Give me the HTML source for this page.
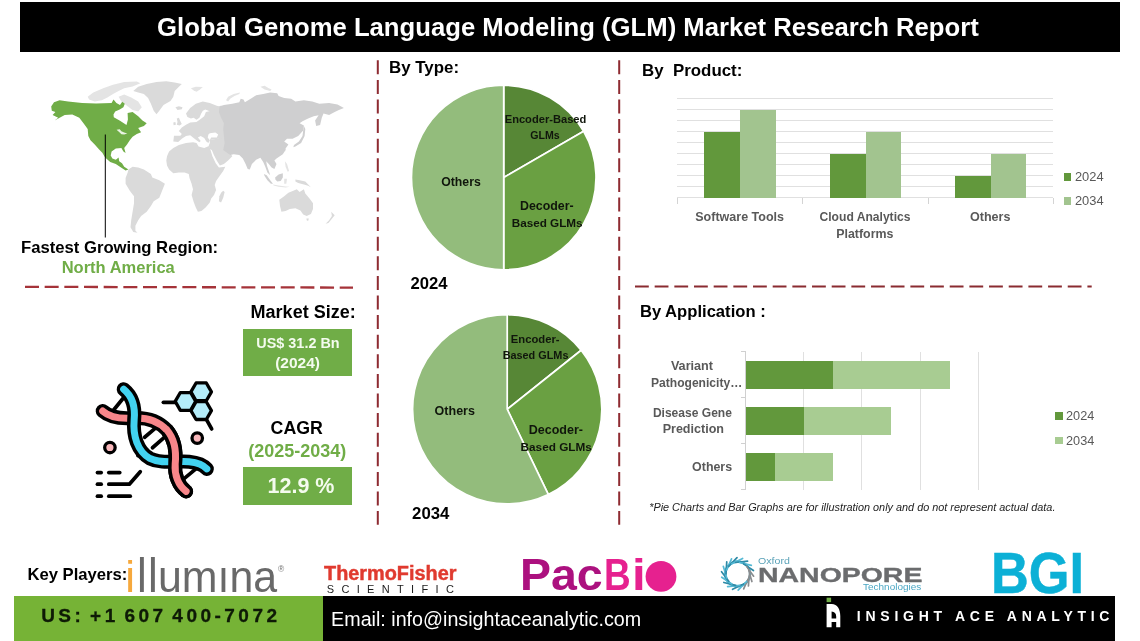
<!DOCTYPE html>
<html><head><meta charset="utf-8"><title>Global Genome Language Modeling (GLM) Market Research Report</title>
<style>
html,body{margin:0;padding:0;background:#fff;}
body{width:1140px;height:641px;position:relative;overflow:hidden;font-family:"Liberation Sans",Arial,sans-serif;color:#000;}
.a{position:absolute;white-space:nowrap;line-height:1;}
.gl{position:absolute;left:677.4px;width:376px;height:1px;background:#e0e0e0;}
.tk{position:absolute;width:1px;background:#d4d4d4;}
svg{position:absolute;left:0;top:0;overflow:visible;}
</style></head><body>
<div class="a" style="left:20px;top:2px;width:1100px;height:50.3px;background:#000;"></div>

<svg width="1140" height="641" viewBox="0 0 1140 641">
<g id="map">
<path fill="#e4e4e4" d="M87.7 96.7 L93.3 92.5 L103.2 88.2 L113.0 84.7 L124.2 81.9 L136.8 81.5 L140.4 83.3 L132.6 86.6 L124.2 88.2 L118.6 91.1 L113.0 93.9 L107.4 97.4 L101.8 100.2 L94.7 101.6 L89.1 99.5Z"/>
<path fill="#e4e4e4" d="M118.6 96.7 L124.2 94.6 L131.2 97.4 L138.2 101.6 L141.8 107.2 L138.2 111.4 L132.6 110.0 L127.0 105.8 L121.4 101.6Z"/>
<path fill="#dadada" d="M133.3 91.1 L138.2 86.8 L146.7 84.0 L156.5 81.9 L166.3 81.2 L174.7 82.6 L181.8 84.0 L178.9 86.8 L174.7 91.1 L173.3 96.7 L170.5 100.9 L163.5 105.1 L159.3 110.7 L156.5 114.2 L153.7 110.7 L150.9 103.7 L148.1 98.1 L143.9 93.9 L138.2 92.5Z"/>
<path fill="#70ad47" d="M51.2 106.5 L54.0 102.3 L59.6 100.3 L68.1 101.4 L82.1 103.1 L96.1 103.4 L111.6 103.1 L113.5 99.5 L116.4 103.1 L120.0 105.1 L122.2 101.7 L124.8 103.7 L123.4 107.3 L119.7 109.6 L115.2 111.5 L113.5 114.4 L113.8 117.2 L120.0 120.8 L126.5 125.0 L127.9 119.4 L127.6 112.9 L132.6 112.1 L138.2 116.3 L142.5 120.5 L146.7 123.3 L143.9 126.1 L138.2 128.1 L141.1 132.3 L136.8 134.0 L132.6 136.8 L129.8 140.2 L127.0 144.4 L124.2 148.0 L125.6 153.1 L123.4 151.4 L121.4 148.0 L115.8 148.6 L111.6 151.4 L110.7 155.6 L112.4 158.4 L115.8 159.8 L118.6 157.6 L119.2 161.2 L122.0 163.2 L124.2 166.8 L128.4 169.6 L125.6 170.5 L121.4 167.7 L115.8 164.0 L110.2 162.1 L105.1 157.6 L102.3 152.8 L98.9 149.2 L94.7 144.4 L90.5 140.2 L88.3 136.0 L87.7 128.9 L83.5 123.3 L79.3 117.7 L72.3 114.4 L64.7 114.9 L54.6 120.5 L58.2 117.7 L52.6 114.9 L55.4 112.1 L51.8 110.7Z"/>
<path fill="#e9f3e2" d="M116.6 129.8 L119.7 129.2 L121.4 131.2 L124.2 132.6 L127.3 133.4 L124.2 134.6 L121.4 134.3 L119.4 132.3Z"/>
<path fill="#dadada" d="M128.4 169.6 L132.6 166.8 L138.2 167.5 L143.9 169.6 L150.9 173.9 L152.3 177.4 L159.3 180.2 L164.9 183.7 L162.1 190.7 L159.3 197.7 L153.7 201.2 L150.9 206.1 L146.7 211.8 L141.1 216.0 L138.2 220.2 L135.4 225.8 L135.4 230.7 L137.5 232.8 L133.3 232.1 L130.5 227.2 L131.2 220.2 L132.6 211.8 L134.0 203.3 L134.0 196.3 L129.8 190.7 L125.6 183.7 L125.6 178.1 L127.7 172.5Z"/>
<path fill="#dadada" d="M175.4 107.2 L178.9 106.2 L182.5 107.2 L181.8 109.3 L177.5 110.0Z"/>
<path fill="#e4e4e4" d="M190.9 88.2 L195.8 86.8 L202.8 87.1 L200.0 89.6 L196.5 91.8 L193.7 90.4Z"/>
<path fill="#e4e4e4" d="M226.0 100.2 L228.1 96.7 L233.7 93.9 L240.0 92.5 L239.3 94.1 L234.4 96.0 L230.2 98.8 L228.1 101.6Z"/>
<path fill="#dadada" d="M186.0 113.5 L190.2 107.9 L195.8 103.7 L202.8 101.6 L209.8 103.0 L216.8 105.8 L221.1 106.8 L221.1 113.5 L212.6 112.8 L208.4 110.7 L205.3 109.6 L202.8 110.7 L201.1 113.8 L199.4 117.7 L196.5 119.8 L193.7 117.7 L190.9 118.4 L187.4 117.0Z"/>
<path fill="#dadada" d="M220.4 105.8 L216.8 108.6 L211.2 110.7 L205.9 112.1 L204.2 116.3 L200.7 119.1 L196.5 121.9 L190.2 122.6 L186.0 124.7 L181.8 127.5 L178.9 131.1 L181.8 133.9 L180.4 135.7 L174.0 135.7 L173.3 141.6 L178.2 141.9 L181.8 138.8 L186.0 136.0 L190.2 135.3 L193.0 137.4 L196.5 140.2 L199.3 142.3 L200.7 140.9 L197.9 137.4 L200.7 136.0 L204.2 138.1 L206.3 141.6 L208.4 143.0 L209.8 140.2 L207.7 137.4 L208.4 134.6 L209.8 133.2 L215.4 132.5 L218.2 134.6 L216.8 137.4 L211.2 137.6 L209.8 139.9 L218.2 138.8 L223.9 139.9 L232.3 139.9 L232.3 106.5Z"/>
<path fill="#dadada" d="M176.8 118.4 L178.9 117.7 L180.4 121.2 L181.8 124.0 L179.6 125.4 L176.8 124.7 L177.5 121.9Z"/>
<path fill="#dadada" d="M173.3 122.6 L175.4 121.9 L175.9 124.7 L173.6 125.2Z"/>
<path fill="#dadada" d="M167.0 156.3 L169.1 151.4 L173.3 147.9 L178.9 145.1 L186.0 143.0 L193.0 142.3 L196.5 143.0 L198.6 146.5 L204.2 147.9 L209.1 146.1 L210.5 150.0 L212.4 156.3 L215.7 163.3 L218.9 167.5 L225.3 166.8 L223.2 171.1 L219.6 176.0 L216.1 180.9 L214.7 185.1 L216.1 190.0 L214.0 194.9 L211.2 198.4 L209.8 202.6 L205.6 207.5 L201.4 211.1 L197.9 211.8 L195.8 207.5 L193.7 201.9 L191.6 194.9 L193.0 189.3 L191.6 183.7 L189.5 178.1 L188.8 173.9 L184.6 172.5 L178.9 172.5 L173.3 173.2 L169.1 169.6 L167.0 165.4 L166.3 160.5Z"/>
<path fill="#dadada" d="M223.2 190.7 L224.6 192.1 L223.2 197.7 L221.1 202.6 L218.9 201.2 L219.4 196.3 L221.1 192.8Z"/>
<path fill="#dadada" d="M209.8 139.9 L218.2 138.5 L232.3 138.8 L232.3 145.8 L228.8 150.0 L230.9 154.2 L232.3 156.3 L228.1 160.5 L223.9 164.0 L219.9 165.4 L217.0 160.9 L213.9 154.9 L211.8 150.0 L209.8 148.9 L208.7 145.8 L209.8 143.0Z"/>
<path fill="#cfcfd0" d="M219.6 106.5 L223.9 105.1 L232.3 103.7 L239.3 102.3 L240.7 98.8 L243.5 99.5 L244.9 102.3 L251.9 98.1 L256.1 95.3 L263.2 93.9 L270.2 92.5 L277.2 93.2 L278.6 96.0 L284.2 98.1 L291.2 98.8 L295.4 101.6 L303.9 100.2 L312.3 101.6 L319.3 103.7 L329.1 103.0 L337.5 104.4 L343.9 107.9 L338.9 110.0 L334.7 112.1 L329.1 114.9 L323.5 113.5 L321.8 117.7 L320.1 125.0 L316.2 125.9 L315.1 120.5 L318.6 115.2 L313.7 116.3 L308.1 118.4 L302.5 121.2 L299.6 123.3 L303.9 125.4 L303.2 130.4 L298.2 136.0 L292.6 138.8 L287.0 138.8 L284.2 141.6 L288.4 144.4 L285.6 148.6 L285.9 152.8 L285.6 150.0 L282.8 154.2 L276.5 158.4 L274.4 160.5 L276.5 164.0 L274.4 168.9 L271.6 167.5 L268.8 164.0 L266.2 161.2 L266.9 165.4 L268.8 171.1 L270.2 175.3 L267.4 172.5 L265.3 166.8 L263.2 161.9 L260.4 157.7 L256.1 159.8 L251.9 164.0 L249.8 169.6 L247.7 168.9 L245.6 164.0 L242.8 158.4 L239.3 154.9 L233.7 154.2 L230.2 154.9 L225.3 151.4 L223.2 150.0 L224.6 143.0 L223.9 136.0 L223.2 128.9 L223.9 123.3 L221.1 117.7 L218.9 112.1Z"/>
<path fill="#cfcfd0" d="M303.9 126.1 L305.3 128.9 L304.6 136.0 L301.1 143.0 L295.4 146.5 L293.3 147.2 L294.0 145.1 L298.9 141.6 L302.5 136.0 L303.2 130.4Z"/>
<path fill="#e4e4e4" d="M260.4 86.8 L264.6 85.7 L268.8 88.2 L271.6 89.6 L270.2 91.1 L264.6 89.6Z"/>
<path fill="#cfcfd0" d="M263.9 173.9 L266.7 175.3 L270.2 180.2 L273.0 183.7 L270.9 183.7 L267.4 180.2 L264.6 176.0Z"/>
<path fill="#e4e4e4" d="M273.0 184.4 L278.6 185.4 L285.6 186.5 L289.8 186.8 L285.6 187.6 L278.6 186.8 L273.7 185.4Z"/>
<path fill="#cfcfd0" d="M275.1 177.4 L278.6 174.6 L282.8 173.2 L282.8 177.4 L280.7 180.9 L277.2 181.6 L275.5 179.5Z"/>
<path fill="#e4e4e4" d="M284.2 178.8 L287.0 178.8 L286.3 183.7 L284.2 183.7Z"/>
<path fill="#dadada" d="M295.4 179.5 L299.6 180.2 L305.3 181.6 L310.9 187.2 L308.1 185.8 L303.9 184.4 L298.2 183.0 L295.4 181.6Z"/>
<path fill="#e4e4e4" d="M284.9 161.2 L287.0 164.0 L289.1 171.1 L287.7 171.8 L285.6 166.8Z"/>
<path fill="#dadada" d="M279.3 199.8 L284.2 196.3 L288.4 192.8 L293.3 190.7 L296.8 189.3 L299.6 192.1 L303.9 189.3 L305.3 193.5 L309.5 198.4 L313.0 203.3 L313.0 208.9 L310.9 213.9 L306.7 216.0 L303.2 214.6 L300.4 210.4 L295.4 208.2 L289.8 208.9 L285.6 211.1 L281.4 211.8 L280.0 206.1Z"/>
<path fill="#dadada" d="M306.4 218.5 L308.8 218.5 L308.1 220.9 L306.7 220.2Z"/>
<path fill="#dadada" d="M331.2 211.8 L334.7 215.3 L331.9 218.8 L328.4 223.0 L325.6 223.7 L329.1 220.2 L331.9 216.0Z"/>
</g>
<line x1="105.3" y1="134.5" x2="105.3" y2="237.5" stroke="#000" stroke-width="1"/>
<line x1="25" y1="286.8" x2="353" y2="287.6" stroke="#a53339" stroke-width="2.3" stroke-dasharray="14 5.67"/>
<line x1="635" y1="286.5" x2="1091.7" y2="286.5" stroke="#8a2b30" stroke-width="2.2" stroke-dasharray="13.8 5.87"/>
<g stroke="#8e2b31" stroke-width="2" stroke-dasharray="14 5.6" fill="none">
<line x1="377.8" y1="60.3" x2="377.8" y2="524.8"/>
<line x1="619.2" y1="60.3" x2="619.2" y2="524.8"/>
</g>
<g id="pies">
<path d="M503.7 177.5 L503.70 85.20 A92.3 92.3 0 0 1 583.63 131.35Z" fill="#578736" stroke="#fff" stroke-width="1.7" stroke-linejoin="round"/>
<path d="M503.7 177.5 L583.63 131.35 A92.3 92.3 0 0 1 503.70 269.80Z" fill="#6aa042" stroke="#fff" stroke-width="1.7" stroke-linejoin="round"/>
<path d="M503.7 177.5 L503.70 269.80 A92.3 92.3 0 0 1 503.70 85.20Z" fill="#93bc7c" stroke="#fff" stroke-width="1.7" stroke-linejoin="round"/>
<path d="M507.2 409.2 L507.20 314.60 A94.6 94.6 0 0 1 581.16 350.22Z" fill="#578736" stroke="#fff" stroke-width="1.7" stroke-linejoin="round"/>
<path d="M507.2 409.2 L581.16 350.22 A94.6 94.6 0 0 1 548.25 494.43Z" fill="#6aa042" stroke="#fff" stroke-width="1.7" stroke-linejoin="round"/>
<path d="M507.2 409.2 L548.25 494.43 A94.6 94.6 0 1 1 507.20 314.60Z" fill="#93bc7c" stroke="#fff" stroke-width="1.7" stroke-linejoin="round"/>
</g>
<g id="dna" transform="translate(80 370) scale(0.21834)" fill="none" stroke-linecap="round" stroke-linejoin="round">
<g stroke="#000" stroke-width="17">
<line x1="155" y1="182" x2="207" y2="118"/>
<line x1="296" y1="308" x2="348" y2="264"/>
<line x1="332" y1="356" x2="394" y2="302"/>
<line x1="474" y1="500" x2="532" y2="452"/>
<line x1="382" y1="148" x2="436" y2="148"/>
<line x1="580" y1="228" x2="603" y2="270"/>
<line x1="80" y1="470" x2="97" y2="470"/><line x1="132" y1="470" x2="182" y2="470"/>
<line x1="80" y1="523" x2="97" y2="523"/><polyline points="132,523 226,523 276,466"/>
<line x1="80" y1="578" x2="97" y2="578"/><line x1="132" y1="578" x2="230" y2="578"/>
</g>
<g stroke="#000" stroke-width="15" fill="#b4ecf9">
<polygon points="602,100 578.500,140.700 531.500,140.700 508,100 531.500,59.300 578.500,59.300"/>
<polygon points="530,144 506.500,184.700 459.500,184.700 436,144 459.500,103.300 506.500,103.300"/>
<polygon points="602,186 578.500,226.700 531.500,226.700 508,186 531.500,145.300 578.500,145.300"/>
</g>
<g stroke="#000" stroke-width="15" fill="#f9b7bb">
<circle cx="137" cy="355" r="24"/><circle cx="537" cy="312" r="24"/>
</g>
<circle cx="265" cy="393" r="8" fill="#000"/>
<path id="sal" d="M104,188 C134,215 180,224 240,220 C300,216 355,228 398,275 C432,315 442,370 436,430 C432,480 450,530 486,556" stroke="#000" stroke-width="64"/>
<path d="M104,188 C134,215 180,224 240,220 C300,216 355,228 398,275 C432,315 442,370 436,430 C432,480 450,530 486,556" stroke="#f8868a" stroke-width="32"/>
<path d="M200,88 C240,120 254,170 248,230 C242,300 262,372 320,405 C372,432 440,415 500,420 C542,424 566,436 581,453" stroke="#000" stroke-width="64"/>
<path d="M200,88 C240,120 254,170 248,230 C242,300 262,372 320,405 C372,432 440,415 500,420 C542,424 566,436 581,453" stroke="#42d2f0" stroke-width="32"/>
<path d="M398,275 C432,315 442,370 436,430 C432,480 450,530 486,556" stroke="#000" stroke-width="64" stroke-linecap="butt"/>
<circle cx="486" cy="556" r="32" fill="#000"/>
<path d="M398,275 C432,315 442,370 436,430 C432,480 450,530 486,556" stroke="#f8868a" stroke-width="32"/>
</g>

</svg>

<div class="a" style="left:243px;top:329.4px;width:109px;height:46.8px;background:#70ad47;"></div>
<div class="a" style="left:243px;top:466.6px;width:109px;height:38px;background:#70ad47;"></div>

<!-- product chart -->
<div class="gl" style="top:97.90px"></div>
<div class="gl" style="top:108.96px"></div>
<div class="gl" style="top:120.01px"></div>
<div class="gl" style="top:131.07px"></div>
<div class="gl" style="top:142.12px"></div>
<div class="gl" style="top:153.18px"></div>
<div class="gl" style="top:164.24px"></div>
<div class="gl" style="top:175.29px"></div>
<div class="gl" style="top:186.35px"></div>
<div class="gl" style="top:197.40px"></div>
<div class="tk" style="left:677px;top:198px;height:6px"></div>
<div class="tk" style="left:802px;top:198px;height:6px"></div>
<div class="tk" style="left:927.5px;top:198px;height:6px"></div>
<div class="tk" style="left:1053px;top:198px;height:6px"></div>
<div class="a" style="left:704.3px;top:131.8px;width:35.7px;height:66.1px;background:#62983c"></div>
<div class="a" style="left:740px;top:109.7px;width:35.8px;height:88.2px;background:#a2c48f"></div>
<div class="a" style="left:830px;top:153.9px;width:35.7px;height:44px;background:#62983c"></div>
<div class="a" style="left:865.7px;top:131.8px;width:35.7px;height:66.1px;background:#a2c48f"></div>
<div class="a" style="left:955px;top:176px;width:35.7px;height:21.9px;background:#62983c"></div>
<div class="a" style="left:990.7px;top:153.9px;width:35.7px;height:44px;background:#a2c48f"></div>
<div class="a" style="left:1063.5px;top:173px;width:7.8px;height:7.6px;background:#62983c"></div>
<div class="a" style="left:1063.5px;top:197.1px;width:7.8px;height:7.6px;background:#a2c48f"></div>

<!-- application chart -->
<div class="tk" style="left:745.3px;top:351.6px;height:138.2px;background:#d0d0d0"></div>
<div class="tk" style="left:803.2px;top:351.6px;height:138.2px;background:#e0e0e0"></div>
<div class="tk" style="left:861.2px;top:351.6px;height:138.2px;background:#e0e0e0"></div>
<div class="tk" style="left:919.6px;top:351.6px;height:138.2px;background:#e0e0e0"></div>
<div class="tk" style="left:977.8px;top:351.6px;height:138.2px;background:#e0e0e0"></div>
<div class="a" style="left:741px;top:351.2px;width:5px;height:1px;background:#d0d0d0"></div>
<div class="a" style="left:741px;top:397.3px;width:5px;height:1px;background:#d0d0d0"></div>
<div class="a" style="left:741px;top:443.4px;width:5px;height:1px;background:#d0d0d0"></div>
<div class="a" style="left:741px;top:489.4px;width:5px;height:1px;background:#d0d0d0"></div>
<div class="a" style="left:746px;top:360.8px;width:87px;height:28px;background:#62983c"></div>
<div class="a" style="left:833px;top:360.8px;width:117px;height:28px;background:#a8cc92"></div>
<div class="a" style="left:746px;top:406.9px;width:58px;height:28px;background:#62983c"></div>
<div class="a" style="left:804px;top:406.9px;width:87.4px;height:28px;background:#a8cc92"></div>
<div class="a" style="left:746px;top:452.9px;width:29px;height:28px;background:#62983c"></div>
<div class="a" style="left:775px;top:452.9px;width:58px;height:28px;background:#a8cc92"></div>
<div class="a" style="left:1054.5px;top:412.2px;width:8px;height:7.7px;background:#62983c"></div>
<div class="a" style="left:1054.5px;top:436.7px;width:8px;height:7.8px;background:#a8cc92"></div>

<!-- footer -->
<div class="a" style="left:14px;top:596px;width:309px;height:45px;background:#76b336;"></div>
<div class="a" style="left:322.8px;top:596px;width:792.4px;height:45px;background:#000;"></div>

<div class="a" style="left:157.07px;top:15.01px;font-size:25.68px;color:#fff;font-weight:bold;">Global Genome Language Modeling (GLM) Market Research Report</div>
<div class="a" style="left:21.00px;top:240.00px;font-size:16.67px;color:#000;font-weight:bold;">Fastest Growing Region:</div>
<div class="a" style="left:61.71px;top:259.01px;font-size:16.51px;color:#70ad47;font-weight:bold;">North America</div>
<div class="a" style="left:250.62px;top:303.01px;font-size:18.00px;color:#000;font-weight:bold;">Market Size:</div>
<div class="a" style="left:256.33px;top:336.01px;font-size:14.42px;color:#f4fbee;font-weight:bold;">US$ 31.2 Bn</div>
<div class="a" style="left:275.18px;top:355.01px;font-size:15.53px;color:#f4fbee;font-weight:bold;">(2024)</div>
<div class="a" style="left:270.59px;top:420.00px;font-size:17.74px;color:#000;font-weight:bold;">CAGR</div>
<div class="a" style="left:248.28px;top:442.01px;font-size:18.00px;color:#70ad47;font-weight:bold;">(2025-2034)</div>
<div class="a" style="left:267.51px;top:476.00px;font-size:21.52px;color:#f4fbee;font-weight:bold;">12.9 %</div>
<div class="a" style="left:388.99px;top:60.00px;font-size:16.89px;color:#000;font-weight:bold;">By Type:</div>
<div class="a" style="left:410.60px;top:276.01px;font-size:16.65px;color:#000;font-weight:bold;">2024</div>
<div class="a" style="left:412.10px;top:506.01px;font-size:16.78px;color:#000;font-weight:bold;">2034</div>
<div class="a" style="left:642.09px;top:63.01px;font-size:16.87px;color:#000;font-weight:bold;">By  Product:</div>
<div class="a" style="left:639.90px;top:304.00px;font-size:16.61px;color:#000;font-weight:bold;">By Application :</div>
<div class="a" style="left:504.73px;top:114.01px;font-size:11.13px;color:#10160c;font-weight:bold;">Encoder-Based</div>
<div class="a" style="left:530.28px;top:130.01px;font-size:10.62px;color:#10160c;font-weight:bold;">GLMs</div>
<div class="a" style="left:441.21px;top:176.01px;font-size:12.27px;color:#10160c;font-weight:bold;">Others</div>
<div class="a" style="left:520.06px;top:200.00px;font-size:12.38px;color:#10160c;font-weight:bold;">Decoder-</div>
<div class="a" style="left:511.70px;top:217.00px;font-size:11.71px;color:#10160c;font-weight:bold;">Based GLMs</div>
<div class="a" style="left:510.83px;top:334.00px;font-size:11.25px;color:#10160c;font-weight:bold;">Encoder-</div>
<div class="a" style="left:502.65px;top:350.01px;font-size:10.87px;color:#10160c;font-weight:bold;">Based GLMs</div>
<div class="a" style="left:434.60px;top:405.01px;font-size:12.52px;color:#10160c;font-weight:bold;">Others</div>
<div class="a" style="left:528.75px;top:424.01px;font-size:12.52px;color:#10160c;font-weight:bold;">Decoder-</div>
<div class="a" style="left:520.59px;top:441.01px;font-size:11.78px;color:#10160c;font-weight:bold;">Based GLMs</div>
<div class="a" style="left:695.25px;top:211.01px;font-size:12.52px;color:#595959;font-weight:bold;">Software Tools</div>
<div class="a" style="left:819.52px;top:211.01px;font-size:12.10px;color:#595959;font-weight:bold;">Cloud Analytics</div>
<div class="a" style="left:836.26px;top:228.01px;font-size:12.40px;color:#595959;font-weight:bold;">Platforms</div>
<div class="a" style="left:970.00px;top:211.00px;font-size:12.55px;color:#595959;font-weight:bold;">Others</div>
<div class="a" style="left:1074.96px;top:171.01px;font-size:12.89px;color:#595959;">2024</div>
<div class="a" style="left:1074.96px;top:195.01px;font-size:12.89px;color:#595959;">2034</div>
<div class="a" style="left:670.90px;top:360.01px;font-size:12.64px;color:#595959;font-weight:bold;">Variant</div>
<div class="a" style="left:650.97px;top:377.01px;font-size:12.09px;color:#595959;font-weight:bold;">Pathogenicity…</div>
<div class="a" style="left:652.88px;top:407.01px;font-size:12.06px;color:#595959;font-weight:bold;">Disease Gene</div>
<div class="a" style="left:662.65px;top:423.00px;font-size:12.56px;color:#595959;font-weight:bold;">Prediction</div>
<div class="a" style="left:692.10px;top:461.02px;font-size:12.42px;color:#595959;font-weight:bold;">Others</div>
<div class="a" style="left:1066.06px;top:410.02px;font-size:12.71px;color:#595959;">2024</div>
<div class="a" style="left:1066.06px;top:435.01px;font-size:12.71px;color:#595959;">2034</div>
<div class="a" style="left:649.16px;top:502.01px;font-size:10.86px;color:#222;font-style:italic;">*Pie Charts and Bar Graphs are for illustration only and do not represent actual data.</div>
<div class="a" style="left:41.16px;top:606.00px;font-size:19.00px;color:#0e1a06;font-weight:bold;letter-spacing:3.48px;word-spacing:-3px;-webkit-text-stroke:0.3px #0e1a06;">US: +1 607 400-7072</div>
<div class="a" style="left:331.12px;top:610.00px;font-size:19.70px;color:#fff;">Email: info@insightaceanalytic.com</div>
<div class="a" style="left:856.86px;top:609.01px;font-size:14.00px;color:#fff;font-weight:bold;letter-spacing:4.74px;">INSIGHT ACE ANALYTIC</div>
<div class="a" style="left:27.40px;top:567.00px;font-size:16.65px;color:#000;font-weight:bold;">Key Players:</div>
<div class="a" style="left:125.26px;top:555.01px;font-size:44.00px;color:#f6a83c;">i</div>
<div class="a" style="left:136.66px;top:551.01px;font-size:48.50px;color:#696969;transform:scaleX(0.9072);transform-origin:0 0;">l</div>
<div class="a" style="left:148.16px;top:551.01px;font-size:48.50px;color:#696969;transform:scaleX(0.9072);transform-origin:0 0;">l</div>
<div class="a" style="left:157.73px;top:555.01px;font-size:44.00px;color:#696969;transform:scaleX(0.9748);transform-origin:0 0;">umına</div>
<div class="a" style="left:278.12px;top:565.00px;font-size:8.47px;color:#777;">®</div>
<div class="a" style="left:323.50px;top:564.00px;font-size:19.60px;color:#e03a2f;font-weight:bold;-webkit-text-stroke:0.45px #e03a2f;transform:scaleX(1.0137);transform-origin:0 0;">ThermoFisher</div>
<div class="a" style="left:326.76px;top:584.01px;font-size:11.00px;color:#1c1c1c;letter-spacing:7.33px;">SCIENTIFIC</div>
<div class="a" style="left:519.91px;top:553.01px;font-size:44.70px;color:#ac117f;font-weight:bold;transform:scaleX(1.0399);transform-origin:0 0;">Pac</div>
<div class="a" style="left:603.88px;top:553.01px;font-size:44.70px;color:#e6218f;font-weight:bold;transform:scaleX(0.8263);transform-origin:0 0;">B</div>
<div class="a" style="left:632.14px;top:553.01px;font-size:44.70px;color:#e6218f;font-weight:bold;transform:scaleX(1.1037);transform-origin:0 0;">i</div>
<div class="a" style="left:757.98px;top:557.00px;font-size:8.80px;color:#5aa2b8;transform:scaleX(1.2049);transform-origin:0 0;">Oxford</div>
<div class="a" style="left:757.59px;top:565.01px;font-size:20.70px;color:#6b6c6e;font-weight:bold;-webkit-text-stroke:0.35px #6b6c6e;transform:scaleX(1.3750);transform-origin:0 0;">NANOPORE</div>
<div class="a" style="left:863.00px;top:583.01px;font-size:8.60px;color:#4aa7c4;transform:scaleX(1.1613);transform-origin:0 0;">Technologies</div>
<div class="a" style="left:991.26px;top:545.00px;font-size:57.30px;color:#0cb0d6;font-weight:bold;-webkit-text-stroke:0.5px #0cb0d6;transform:scaleX(0.9126);transform-origin:0 0;">BGI</div>
<svg width="1140" height="641" viewBox="0 0 1140 641"><circle cx="737.6" cy="573.9" r="12.3" fill="none" stroke="#4fb0cb" stroke-width="2.6"/><line x1="749.20" y1="573.90" x2="748.44" y2="585.94" stroke="#8a8c8e" stroke-width="1.7" stroke-linecap="round"/><line x1="748.50" y1="577.87" x2="743.67" y2="588.92" stroke="#8a8c8e" stroke-width="1.7" stroke-linecap="round"/><line x1="746.49" y1="581.36" x2="738.17" y2="590.09" stroke="#55b9d4" stroke-width="1.7" stroke-linecap="round"/><line x1="743.40" y1="583.95" x2="732.59" y2="589.31" stroke="#2f8aa6" stroke-width="1.7" stroke-linecap="round"/><line x1="739.61" y1="585.32" x2="727.63" y2="586.67" stroke="#55b9d4" stroke-width="1.7" stroke-linecap="round"/><line x1="735.59" y1="585.32" x2="723.86" y2="582.48" stroke="#2f8aa6" stroke-width="1.7" stroke-linecap="round"/><line x1="731.80" y1="583.95" x2="721.75" y2="577.27" stroke="#55b9d4" stroke-width="1.7" stroke-linecap="round"/><line x1="728.71" y1="581.36" x2="721.56" y2="571.65" stroke="#2f8aa6" stroke-width="1.7" stroke-linecap="round"/><line x1="726.70" y1="577.87" x2="723.30" y2="566.29" stroke="#55b9d4" stroke-width="1.7" stroke-linecap="round"/><line x1="726.00" y1="573.90" x2="726.76" y2="561.86" stroke="#2f8aa6" stroke-width="1.7" stroke-linecap="round"/><line x1="726.70" y1="569.93" x2="731.53" y2="558.88" stroke="#55b9d4" stroke-width="1.7" stroke-linecap="round"/><line x1="728.71" y1="566.44" x2="737.03" y2="557.71" stroke="#2f8aa6" stroke-width="1.7" stroke-linecap="round"/><line x1="731.80" y1="563.85" x2="742.61" y2="558.49" stroke="#55b9d4" stroke-width="1.7" stroke-linecap="round"/><line x1="735.59" y1="562.48" x2="747.57" y2="561.13" stroke="#2f8aa6" stroke-width="1.7" stroke-linecap="round"/><line x1="739.61" y1="562.48" x2="751.34" y2="565.32" stroke="#55b9d4" stroke-width="1.7" stroke-linecap="round"/><line x1="743.40" y1="563.85" x2="753.45" y2="570.53" stroke="#2f8aa6" stroke-width="1.7" stroke-linecap="round"/><line x1="746.49" y1="566.44" x2="753.64" y2="576.15" stroke="#8a8c8e" stroke-width="1.7" stroke-linecap="round"/><line x1="748.50" y1="569.93" x2="751.90" y2="581.51" stroke="#8a8c8e" stroke-width="1.7" stroke-linecap="round"/><circle cx="738.2" cy="573.9" r="10.4" fill="#fff"/><circle cx="661" cy="576.4" r="15.4" fill="#e6218f"/><rect x="826.6" y="597.7" width="4.5" height="4.4" fill="#70ad47"/><path fill="#fff" fill-rule="evenodd" d="M826.6 604 L831.6 604 C837.5 604 840.3 609.5 840.3 616 L840.3 627.3 L836.2 627.3 L836.2 622 L831.6 622 L831.6 627.3 L826.6 627.3 Z M831.6 611.6 L831.6 618.4 L836.2 618.4 L836.2 616.5 C836.2 613.8 834.6 611.6 831.6 611.6 Z"/></svg>
</body></html>
